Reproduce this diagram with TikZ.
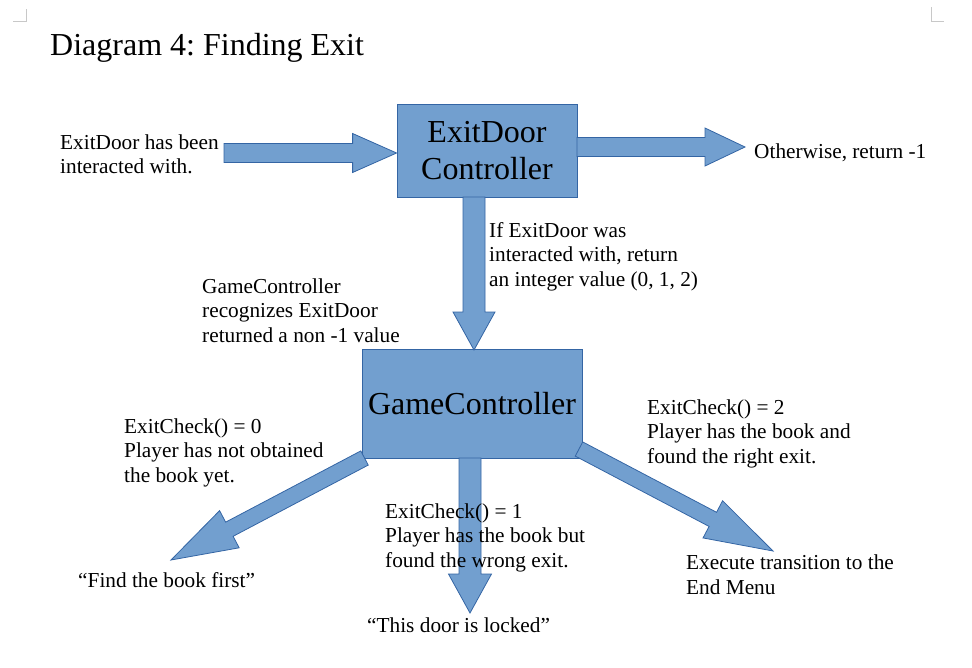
\documentclass[tikz,border=0pt]{standalone}
\usepackage{fontspec}
\setmainfont{Liberation Serif}
\usetikzlibrary{calc}
\definecolor{bfill}{HTML}{729FCF}
\definecolor{bline}{HTML}{3465A4}
\definecolor{markgray}{HTML}{C8C8C8}
\frenchspacing
% block arrow: #1 from, #2 to, #3 half shaft width, #4 half head width, #5 head length
\newcommand\blockarr[5]{%
  \coordinate (ba-h) at ($(#2)!#5!(#1)$);
  \draw[blockarrow] ($(#1)!#3!90:(#2)$) -- ($(ba-h)!#3!90:(#2)$) -- ($(ba-h)!#4!90:(#2)$)
    -- (#2) -- ($(ba-h)!#4!-90:(#2)$) -- ($(ba-h)!#3!-90:(#2)$) -- ($(#1)!#3!-90:(#2)$) -- cycle;
}
\tikzset{
  box/.style={draw=bline, fill=bfill, line width=0.8pt, inner sep=0pt, align=center,
    font=\fontsize{32}{37}\selectfont},
  blockarrow/.style={draw=bline, fill=bfill, line width=0.8pt, line join=miter},
  % anchor = baseline of the LAST line of the text
  txt/.style={anchor=base west, inner sep=0pt, align=left, font=\fontsize{21.3}{24.3}\selectfont},
  cornermark/.style={draw=markgray, line width=1pt},
}
\begin{document}
\begin{tikzpicture}[x=1pt, y=-1pt]
\useasboundingbox (0,0) rectangle (972,667);
% page corner marks
\draw[cornermark] (26,9) -- (26,21) -- (13,21);
\draw[cornermark] (931,7) -- (931,21) -- (944,21);
% title
\node[anchor=base west, inner sep=0pt, font=\fontsize{32}{37}\selectfont] (title) at (50,55) {Diagram 4: Finding Exit};
% boxes
\node[box, minimum width=180pt, minimum height=93pt] (ed) at (487,150.5) {ExitDoor\\Controller};
\node[box, minimum width=220pt, minimum height=109pt] (gc) at (472,403.5) {GameController};
% arrow endpoints
\coordinate (inS) at (224,153);
\coordinate (inT) at (ed.west |- inS);
\coordinate (outS) at (577,147);
\coordinate (outT) at (745,147);
\coordinate (dnS) at (474,197);
\coordinate (dnT) at (474,350);
\coordinate (c0S) at (364.5,458);
\coordinate (c0T) at (171,560);
\coordinate (c1S) at (470,458);
\coordinate (c1T) at (470,613);
\coordinate (c2S) at (579,449);
\coordinate (c2T) at (773,551);
% arrows
\blockarr{inS}{inT}{9.5pt}{19.5pt}{44pt}
\blockarr{outS}{outT}{9.5pt}{19pt}{40pt}
\blockarr{dnS}{dnT}{11pt}{21pt}{38pt}
\blockarr{c0S}{c0T}{8pt}{21pt}{66pt}
\blockarr{c1S}{c1T}{11pt}{21.5pt}{39pt}
\blockarr{c2S}{c2T}{8pt}{21pt}{68pt}
% texts (positions = baseline of last line)
\node[txt] (tin) at (60,173.5) {ExitDoor has been\\interacted with.};
\node[txt] (tout) at (754,158) {Otherwise, return -1};
\node[txt] (tdn) at (489,286) {If ExitDoor was\\interacted with, return\\an integer value (0, 1, 2)};
\node[txt] (tgc) at (202,342) {GameController\\recognizes ExitDoor\\returned a non -1 value};
\node[txt] (t0) at (124,482) {ExitCheck() = 0\\Player has not obtained\\the book yet.};
\node[txt] (t1) at (385,567) {ExitCheck() = 1\\Player has the book but\\found the wrong exit.};
\node[txt] (t2) at (647,463) {ExitCheck() = 2\\Player has the book and\\found the right exit.};
\node[txt] (r0) at (78,587) {“Find the book first”};
\node[txt] (r1) at (367,632) {“This door is locked”};
\node[txt] (r2) at (686,594) {Execute transition to the\\End Menu};
\end{tikzpicture}
\end{document}
